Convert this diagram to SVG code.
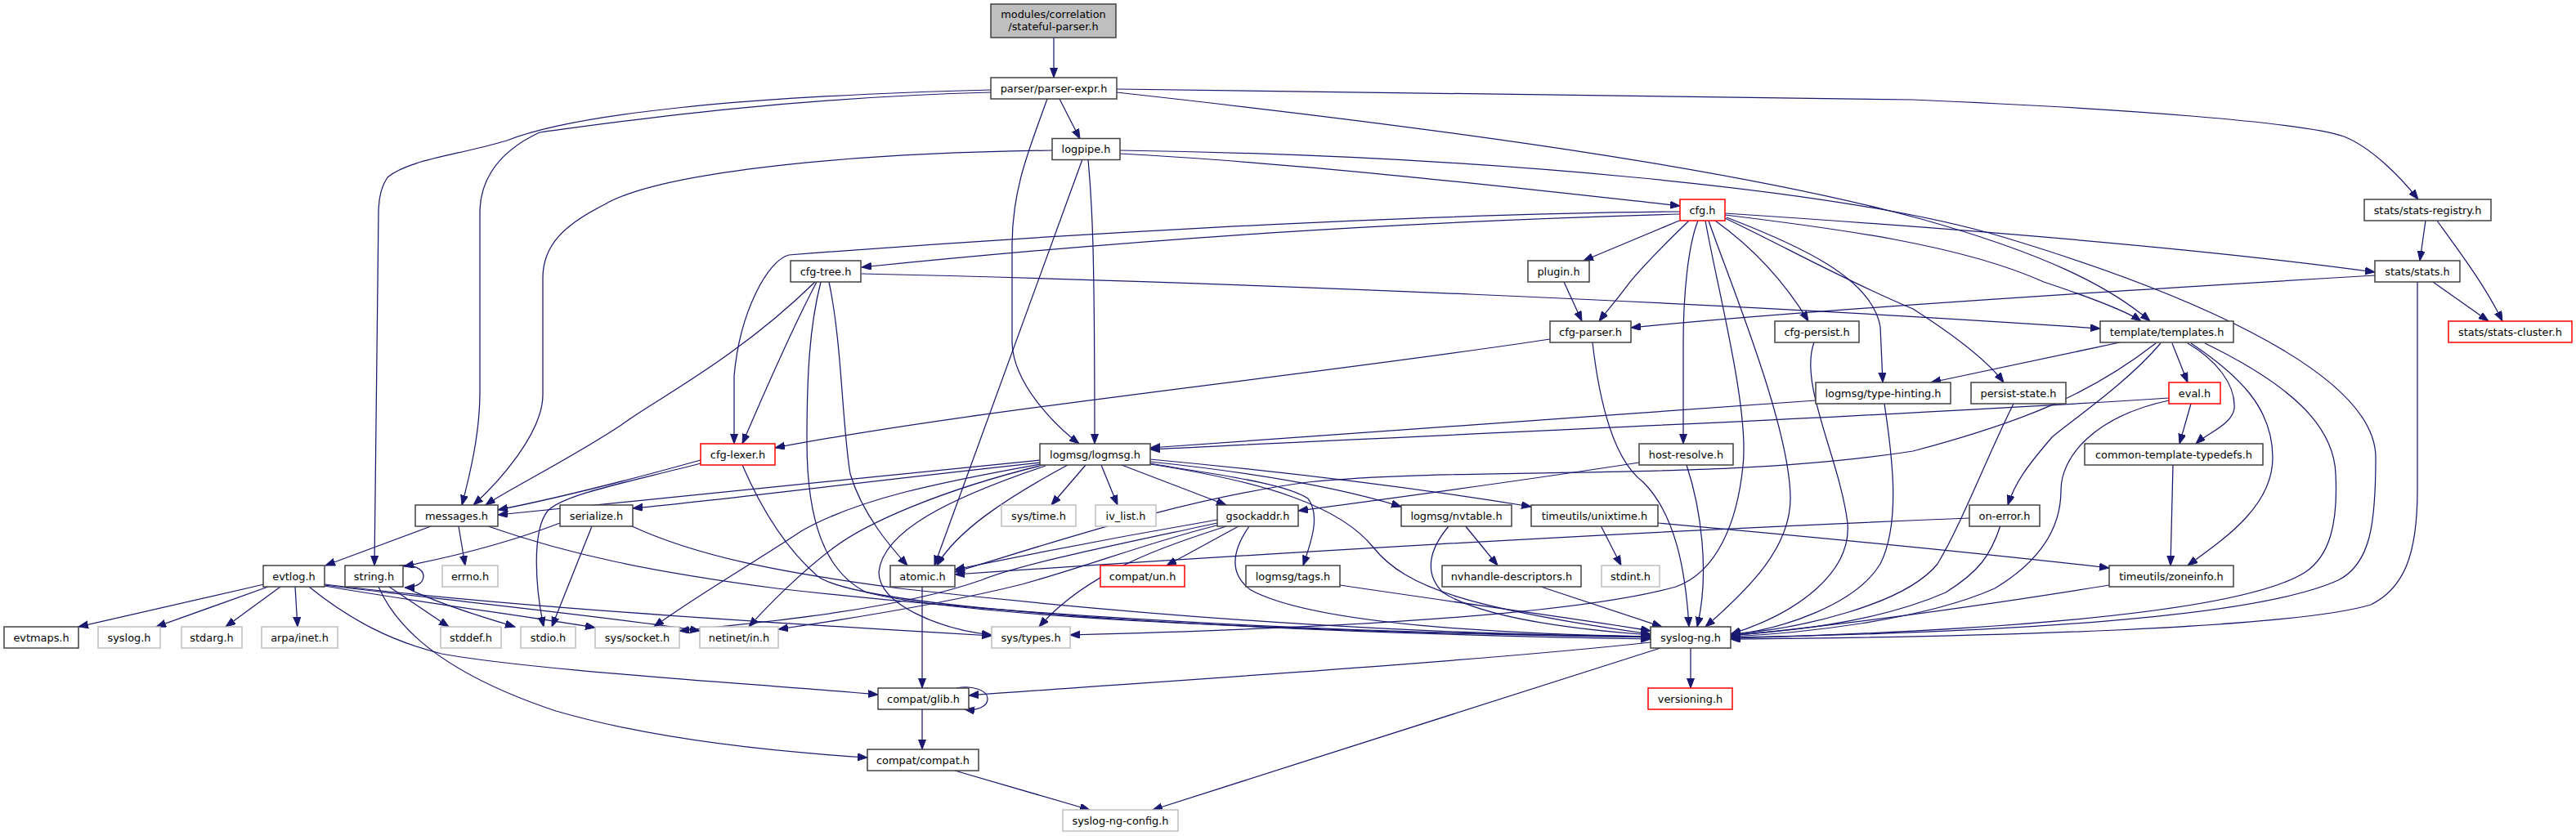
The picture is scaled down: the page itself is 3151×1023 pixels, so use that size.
<svg xmlns="http://www.w3.org/2000/svg" width="3151" height="1023" viewBox="0 0 3151 1023">
<defs>
<style>
.e path{fill:none;stroke:#191970;stroke-width:1.25;marker-end:url(#a)}
.nd rect{fill:#fff;stroke:#404040;stroke-width:1.5}
.sys rect{stroke:#bfbfbf}
.red rect{stroke:#ff0000}
.root rect{fill:#bfbfbf}
.nd text{font-family:"DejaVu Sans",sans-serif;font-size:12.9px;fill:#000;text-anchor:middle}
</style>
<marker id="a" markerUnits="userSpaceOnUse" markerWidth="13" markerHeight="10" refX="12" refY="4.5" orient="auto"><path d="M0,0 L12,4.5 L0,9 z" fill="#191970" stroke="#191970" stroke-width="1"/></marker>
</defs>
<rect width="3151" height="1023" fill="#fff"/>
<g id="edges" class="e">
<path d="M1289,46 L1289,95"/>
<path d="M1296,121 L1321,170"/>
<path d="M1366,109 L2340,122 C2600,133 2820,150 2867,167 C2900,180 2935,215 2958,244"/>
<path d="M1366,113 C1700,150 2100,200 2350,268 C2500,310 2580,350 2630,393"/>
<path d="M1212,110 C900,118 700,140 620,172 C560,190 500,195 474,217 C465,230 463,245 463,260 L458,692"/>
<path d="M1212,113 C950,120 750,150 660,162 C600,190 587,230 587,260 L587,480 C587,530 575,580 565,618"/>
<path d="M1281,121 C1260,180 1238,230 1238,300 L1238,420 C1240,470 1290,520 1320,543"/>
<path d="M1287,184 C1000,188 800,215 740,250 C690,275 664,300 664,340 L664,483 C664,530 610,590 579,618"/>
<path d="M1370,188 C1600,200 1900,235 2055,252"/>
<path d="M1331,195 C1336,250 1339,300 1339,543"/>
<path d="M1324,195 L1143,692"/>
<path d="M1370,184 C1800,190 2250,230 2450,290 C2650,350 2906,450 2906,560 C2906,640 2900,690 2860,710 C2750,760 2400,775 2117,780"/>
<path d="M2055,262 C1700,272 1400,292 1054,327"/>
<path d="M2055,259 C1700,262 1250,290 965,312 C940,318 905,380 898,460 L898,543"/>
<path d="M2054,270 L1937,319"/>
<path d="M2066,270 C2035,300 2005,330 1990,350 C1975,370 1962,385 1956,393"/>
<path d="M2077,270 C2065,300 2059,360 2059,420 L2059,543"/>
<path d="M2086,270 C2100,350 2140,500 2132,570 C2125,640 2100,700 2050,718 C1900,760 1500,772 1309,777"/>
<path d="M2090,270 C2110,330 2190,520 2190,610 C2190,670 2140,720 2086,767"/>
<path d="M2098,270 C2140,300 2180,340 2212,393"/>
<path d="M2110,267 C2180,300 2260,345 2340,378 C2390,410 2430,440 2451,468"/>
<path d="M2112,266 C2200,300 2290,340 2300,400 L2303,468"/>
<path d="M2110,263 C2250,280 2400,300 2500,345 C2560,365 2600,380 2619,393"/>
<path d="M2110,261 C2400,280 2700,305 2905,333"/>
<path d="M1054,335 C1500,345 2100,370 2569,402"/>
<path d="M997,345 C900,440 800,490 760,520 C700,560 620,600 594,618"/>
<path d="M999,345 C970,400 935,480 908,543"/>
<path d="M1004,345 C990,400 987,460 987,540 C987,640 1010,700 1060,725 C1200,760 1700,775 2019,780"/>
<path d="M1014,345 C1030,420 1030,520 1040,580 C1055,630 1090,670 1110,692"/>
<path d="M857,563 C760,590 680,610 609,624"/>
<path d="M857,567 C760,592 690,605 670,625 C650,650 655,720 665,767"/>
<path d="M908,569 C930,620 960,670 1000,705 C1060,750 1600,775 2019,782"/>
<path d="M1272,563 C1000,590 800,612 609,630"/>
<path d="M1272,566 C1050,590 900,610 774,622"/>
<path d="M1272,568 C1150,590 1050,610 980,650 C920,690 850,730 800,767"/>
<path d="M1276,569 C1150,600 1060,640 1020,670 C980,700 940,740 916,767"/>
<path d="M1279,570 C1160,610 1080,650 1075,700 C1075,740 1150,770 1213,777"/>
<path d="M1306,569 C1230,610 1170,650 1146,692"/>
<path d="M1328,569 L1286,618"/>
<path d="M1347,569 L1367,618"/>
<path d="M1372,569 L1500,618"/>
<path d="M1407,567 C1480,580 1570,590 1600,610 C1615,630 1605,660 1594,692"/>
<path d="M1407,565 C1550,580 1650,600 1714,620"/>
<path d="M1407,562 C1600,580 1750,600 1873,620"/>
<path d="M1407,568 C1550,590 1640,620 1680,670 C1720,720 1800,745 2019,776"/>
<path d="M1489,636 C1350,660 1250,680 1168,697"/>
<path d="M1489,640 C1350,670 1250,690 1200,710 C1100,745 950,760 831,772"/>
<path d="M1492,642 C1400,665 1340,690 1250,715 C1150,740 1020,760 952,770"/>
<path d="M1500,644 C1420,670 1330,700 1271,767"/>
<path d="M1515,644 L1427,692"/>
<path d="M1528,644 C1510,670 1500,700 1530,722 C1600,760 1800,775 2019,779"/>
<path d="M2005,566 C1850,590 1700,610 1588,625"/>
<path d="M2063,569 C2080,620 2092,700 2076,767"/>
<path d="M1896,415 C1600,460 1200,500 948,548"/>
<path d="M1948,419 C1955,480 1970,560 2010,590 C2050,630 2062,700 2066,767"/>
<path d="M1913,345 L1935,393"/>
<path d="M2905,337 C2600,355 2200,380 1995,401"/>
<path d="M2976,345 L3044,393"/>
<path d="M2957,345 L2957,600 C2957,680 2940,720 2900,740 C2800,770 2400,780 2117,782"/>
<path d="M2967,270 L2960,319"/>
<path d="M2981,270 C3010,310 3040,350 3061,393"/>
<path d="M2593,419 L2362,468"/>
<path d="M2637,420 C2560,480 2480,515 2340,552 C2100,590 1800,570 1600,590 C1450,610 1300,660 1168,700"/>
<path d="M2643,420 C2600,470 2540,510 2510,535 C2480,570 2465,590 2456,618"/>
<path d="M2657,420 L2676,468"/>
<path d="M2676,420 C2710,440 2735,470 2733,500 C2730,520 2700,530 2686,543"/>
<path d="M2680,420 C2740,460 2780,500 2780,560 C2780,620 2720,660 2676,692"/>
<path d="M2697,420 C2800,470 2855,520 2857,580 C2860,640 2850,680 2820,700 C2750,745 2500,770 2117,781"/>
<path d="M2653,487 C2300,510 1800,530 1407,550"/>
<path d="M2680,494 L2666,543"/>
<path d="M2653,490 C2560,510 2521,560 2521,600 C2521,650 2490,690 2440,720 C2350,760 2200,775 2117,779"/>
<path d="M2221,490 C1900,515 1600,535 1407,548"/>
<path d="M2305,494 C2315,560 2325,640 2300,690 C2270,740 2180,770 2117,777"/>
<path d="M2463,494 C2430,560 2400,640 2370,690 C2330,740 2200,770 2117,776"/>
<path d="M2219,419 C2200,470 2250,560 2260,640 C2265,700 2200,750 2117,776"/>
<path d="M2658,569 L2655,692"/>
<path d="M2409,634 C2000,650 1500,680 1168,703"/>
<path d="M2447,643 C2435,680 2420,700 2380,725 C2300,760 2200,772 2117,777"/>
<path d="M2580,716 C2400,745 2250,765 2117,778"/>
<path d="M2028,640 C2250,660 2450,680 2580,695"/>
<path d="M1958,643 L1983,692"/>
<path d="M1792,643 L1832,692"/>
<path d="M1772,644 C1750,670 1740,700 1765,725 C1820,760 1950,772 2019,777"/>
<path d="M1885,718 L2033,767"/>
<path d="M1639,716 C1800,740 1950,760 2019,772"/>
<path d="M527,644 L398,692"/>
<path d="M561,644 L569,692"/>
<path d="M597,644 C700,680 800,700 950,720 C1300,760 1700,776 2019,779"/>
<path d="M685,640 C620,665 560,680 494,693"/>
<path d="M724,644 L675,767"/>
<path d="M771,643 C850,680 950,700 1100,720 C1500,765 1800,777 2019,779"/>
<path d="M323,715 L96,767"/>
<path d="M328,718 L191,767"/>
<path d="M343,718 L276,767"/>
<path d="M361,718 L364,767"/>
<path d="M378,718 C430,760 480,785 540,800 C650,820 900,835 1074,850"/>
<path d="M397,717 C500,735 650,755 728,768"/>
<path d="M397,715 C600,740 900,760 1213,778"/>
<path d="M397,716 C550,735 750,755 856,772"/>
<path d="M488,692 C505,690 518,696 518,705 C518,714 508,719 495,719"/>
<path d="M476,718 L549,767"/>
<path d="M496,719 C540,740 590,755 630,767"/>
<path d="M463,718 C490,780 560,830 680,870 C800,905 950,920 1061,927"/>
<path d="M1128,718 L1128,842"/>
<path d="M1170,842 C1190,838 1208,845 1208,855 C1208,865 1195,870 1180,868"/>
<path d="M1128,868 L1128,917"/>
<path d="M1168,943 L1333,991"/>
<path d="M2031,793 L1410,991"/>
<path d="M2019,786 C1800,810 1400,835 1185,851"/>
<path d="M2068,793 L2068,842"/>
</g>
<g id="root" class="nd root"><rect x="1212" y="5" width="153" height="41"/><text x="1288.5" y="22">modules/correlation</text><text x="1288.5" y="37">/stateful-parser.h</text></g>
<g id="parser_expr" class="nd"><rect x="1212" y="95" width="154" height="26"/><text x="1289" y="112.5">parser/parser-expr.h</text></g>
<g id="logpipe" class="nd"><rect x="1287" y="169.5" width="83" height="26"/><text x="1328.5" y="187">logpipe.h</text></g>
<g id="cfg" class="nd red"><rect x="2055" y="244" width="55" height="26"/><text x="2082.5" y="261.5">cfg.h</text></g>
<g id="stats_registry" class="nd"><rect x="2892" y="244" width="155" height="26"/><text x="2969.5" y="261.5">stats/stats-registry.h</text></g>
<g id="cfg_tree" class="nd"><rect x="967" y="319" width="86" height="26"/><text x="1010" y="336.5">cfg-tree.h</text></g>
<g id="plugin" class="nd"><rect x="1869" y="319" width="75" height="26"/><text x="1906.5" y="336.5">plugin.h</text></g>
<g id="stats" class="nd"><rect x="2905" y="319" width="104" height="26"/><text x="2957" y="336.5">stats/stats.h</text></g>
<g id="cfg_parser" class="nd"><rect x="1896" y="393" width="99" height="26"/><text x="1945.5" y="410.5">cfg-parser.h</text></g>
<g id="cfg_persist" class="nd"><rect x="2171" y="393" width="103" height="26"/><text x="2222.5" y="410.5">cfg-persist.h</text></g>
<g id="templates" class="nd"><rect x="2569" y="393" width="163" height="26"/><text x="2650.5" y="410.5">template/templates.h</text></g>
<g id="stats_cluster" class="nd red"><rect x="2995" y="393" width="151" height="26"/><text x="3070.5" y="410.5">stats/stats-cluster.h</text></g>
<g id="type_hinting" class="nd"><rect x="2221" y="468" width="165" height="26"/><text x="2303.5" y="485.5">logmsg/type-hinting.h</text></g>
<g id="persist_state" class="nd"><rect x="2411" y="468" width="116" height="26"/><text x="2469" y="485.5">persist-state.h</text></g>
<g id="eval" class="nd red"><rect x="2653" y="468" width="63" height="26"/><text x="2684.5" y="485.5">eval.h</text></g>
<g id="cfg_lexer" class="nd red"><rect x="857" y="543" width="91" height="26"/><text x="902.5" y="560.5">cfg-lexer.h</text></g>
<g id="logmsg" class="nd"><rect x="1272" y="543" width="135" height="26"/><text x="1339.5" y="560.5">logmsg/logmsg.h</text></g>
<g id="host_resolve" class="nd"><rect x="2005" y="543" width="115" height="26"/><text x="2062.5" y="560.5">host-resolve.h</text></g>
<g id="ctt" class="nd"><rect x="2550" y="543" width="218" height="26"/><text x="2659" y="560.5">common-template-typedefs.h</text></g>
<g id="messages" class="nd"><rect x="508" y="618" width="101" height="26"/><text x="558.5" y="635.5">messages.h</text></g>
<g id="serialize" class="nd"><rect x="685" y="618" width="89" height="26"/><text x="729.5" y="635.5">serialize.h</text></g>
<g id="sys_time" class="nd sys"><rect x="1225" y="618" width="91" height="26"/><text x="1270.5" y="635.5">sys/time.h</text></g>
<g id="iv_list" class="nd sys"><rect x="1340" y="618" width="74" height="26"/><text x="1377" y="635.5">iv_list.h</text></g>
<g id="gsockaddr" class="nd"><rect x="1489" y="618" width="99" height="26"/><text x="1538.5" y="635.5">gsockaddr.h</text></g>
<g id="nvtable" class="nd"><rect x="1714" y="618" width="135" height="26"/><text x="1781.5" y="635.5">logmsg/nvtable.h</text></g>
<g id="unixtime" class="nd"><rect x="1873" y="618" width="155" height="26"/><text x="1950.5" y="635.5">timeutils/unixtime.h</text></g>
<g id="on_error" class="nd"><rect x="2409" y="618" width="86" height="26"/><text x="2452" y="635.5">on-error.h</text></g>
<g id="evtlog" class="nd"><rect x="322" y="692" width="75" height="26"/><text x="359.5" y="709.5">evtlog.h</text></g>
<g id="string" class="nd"><rect x="422" y="692" width="71" height="26"/><text x="457.5" y="709.5">string.h</text></g>
<g id="errno" class="nd sys"><rect x="541" y="692" width="68" height="26"/><text x="575" y="709.5">errno.h</text></g>
<g id="atomic" class="nd"><rect x="1089" y="692" width="79" height="26"/><text x="1128.5" y="709.5">atomic.h</text></g>
<g id="compat_un" class="nd red"><rect x="1346" y="692" width="103" height="26"/><text x="1397.5" y="709.5">compat/un.h</text></g>
<g id="tags" class="nd"><rect x="1524" y="692" width="115" height="26"/><text x="1581.5" y="709.5">logmsg/tags.h</text></g>
<g id="nvhandle" class="nd"><rect x="1764" y="692" width="170" height="26"/><text x="1849" y="709.5">nvhandle-descriptors.h</text></g>
<g id="stdint" class="nd sys"><rect x="1959" y="692" width="71" height="26"/><text x="1994.5" y="709.5">stdint.h</text></g>
<g id="zoneinfo" class="nd"><rect x="2580" y="692" width="152" height="26"/><text x="2656" y="709.5">timeutils/zoneinfo.h</text></g>
<g id="evtmaps" class="nd"><rect x="5" y="767" width="91" height="26"/><text x="50.5" y="784.5">evtmaps.h</text></g>
<g id="syslog" class="nd sys"><rect x="120" y="767" width="76" height="26"/><text x="158" y="784.5">syslog.h</text></g>
<g id="stdarg" class="nd sys"><rect x="222" y="767" width="74" height="26"/><text x="259" y="784.5">stdarg.h</text></g>
<g id="arpa_inet" class="nd sys"><rect x="320" y="767" width="93" height="26"/><text x="366.5" y="784.5">arpa/inet.h</text></g>
<g id="stddef" class="nd sys"><rect x="539" y="767" width="74" height="26"/><text x="576" y="784.5">stddef.h</text></g>
<g id="stdio" class="nd sys"><rect x="637" y="767" width="67" height="26"/><text x="670.5" y="784.5">stdio.h</text></g>
<g id="sys_socket" class="nd sys"><rect x="728" y="767" width="103" height="26"/><text x="779.5" y="784.5">sys/socket.h</text></g>
<g id="netinet_in" class="nd sys"><rect x="856" y="767" width="96" height="26"/><text x="904" y="784.5">netinet/in.h</text></g>
<g id="sys_types" class="nd sys"><rect x="1213" y="767" width="96" height="26"/><text x="1261" y="784.5">sys/types.h</text></g>
<g id="syslog_ng" class="nd"><rect x="2019" y="767" width="98" height="26"/><text x="2068" y="784.5">syslog-ng.h</text></g>
<g id="compat_glib" class="nd"><rect x="1074" y="842" width="111" height="26"/><text x="1129.5" y="859.5">compat/glib.h</text></g>
<g id="versioning" class="nd red"><rect x="2016" y="842" width="103" height="26"/><text x="2067.5" y="859.5">versioning.h</text></g>
<g id="compat_compat" class="nd"><rect x="1061" y="917" width="136" height="26"/><text x="1129" y="934.5">compat/compat.h</text></g>
<g id="syslog_ng_config" class="nd sys"><rect x="1300" y="991" width="141" height="26"/><text x="1370.5" y="1008.5">syslog-ng-config.h</text></g>
</svg>
